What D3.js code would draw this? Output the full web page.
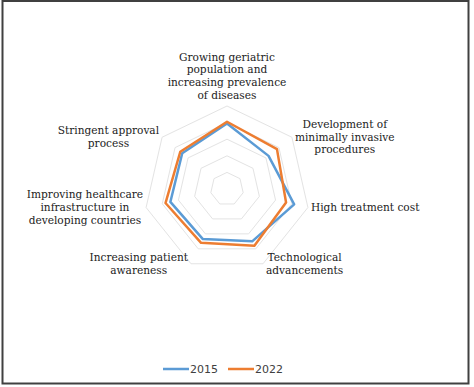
<!DOCTYPE html>
<html>
<head>
<meta charset="utf-8">
<script src="https://cdn.jsdelivr.net/npm/d3@7"></script>
<style>
  html, body { margin: 0; padding: 0; background: #fff; }
  svg { display: block; }
</style>
</head>
<body>
<svg id="chart" width="474" height="387"></svg>
<script>
// ---- data ----
const categories = [
  ["Growing geriatric", "population and", "increasing prevalence", "of diseases"],
  ["Development of", "minimally invasive", "procedures"],
  ["High treatment cost"],
  ["Technological", "advancements"],
  ["Increasing patient", "awareness"],
  ["Improving healthcare", "infrastructure in", "developing countries"],
  ["Stringent approval", "process"]
];
const seriesNames = ["2015", "2022"];
const values2015 = [3.95, 3.2, 4.15, 3.5, 3.35, 3.5, 3.45];
const values2022 = [4.05, 3.85, 3.65, 3.8, 3.6, 3.8, 3.6];
const ringTicks = [1, 2, 3, 4, 5];

// ---- layout ----
const svg = d3.select("#chart");
const cx = 227, cy = 189, R = 83;
const colors = ["#5B9BD5", "#ED7D31"];
const n = categories.length;

// border
svg.append("rect").attr("x", 2.5).attr("y", 1).attr("width", 466).attr("height", 382.5)
  .attr("fill", "#fff").attr("stroke", "#404040").attr("stroke-width", 2);

const r = d3.scaleLinear().domain([0, 5]).range([0, R]);
const angle = d3.scaleLinear().domain([0, n]).range([0, 2 * Math.PI]);

const g = svg.append("g").attr("transform", `translate(${cx},${cy})`);

// grid rings
const ringLine = d3.lineRadial().curve(d3.curveLinearClosed);
g.selectAll("path.ring").data(ringTicks).join("path")
  .attr("class", "ring")
  .attr("d", t => ringLine(d3.range(n).map(i => [angle(i), r(t)])))
  .attr("fill", "none").attr("stroke", "#e3e3e3").attr("stroke-width", 1);

// series
const seriesLine = d3.lineRadial()
  .angle((d, i) => angle(i)).radius(d => r(d)).curve(d3.curveLinearClosed);
[values2015, values2022].forEach((vals, si) => {
  g.append("path").attr("d", seriesLine(vals))
    .attr("fill", "none").attr("stroke", colors[si])
    .attr("stroke-width", 2.5).attr("stroke-linejoin", "round");
});

// labels
const fontSize = 10.6, lh = 12.8;
categories.forEach((lines, i) => {
  const a = angle(i);
  const vx = cx + R * Math.sin(a), vy = cy - R * Math.cos(a);
  const lg = svg.append("g");
  const texts = lines.map((ln, k) => lg.append("text")
    .attr("font-family", "'DejaVu Serif', serif").attr("font-size", fontSize)
    .attr("fill", "#222").attr("text-anchor", "middle").text(ln));
  const widths = texts.map(t => t.node().getComputedTextLength());
  const bw = d3.max(widths);
  const bh = lines.length * lh;
  let bx, by;
  const sx = Math.sin(a);
  if (Math.abs(sx) < 0.01) { bx = vx - bw / 2; by = vy - 4 - bh; }
  else if (sx > 0) { bx = vx + 3; by = vy - bh / 2; }
  else { bx = vx - 3 - bw; by = vy - bh / 2; }
  texts.forEach((t, k) => t.attr("x", bx + bw / 2).attr("y", by + (k + 1) * lh - 3));
});

// legend
const legend = svg.append("g");
const lx = [163, 228];
seriesNames.forEach((s, i) => {
  legend.append("line").attr("x1", lx[i]).attr("x2", lx[i] + 26)
    .attr("y1", 369).attr("y2", 369).attr("stroke", colors[i]).attr("stroke-width", 2.5);
  legend.append("text").attr("x", lx[i] + 27).attr("y", 373)
    .attr("font-family", "'DejaVu Sans', sans-serif").attr("font-size", 11)
    .attr("fill", "#404040").text(s);
});
</script>
</body>
</html>
